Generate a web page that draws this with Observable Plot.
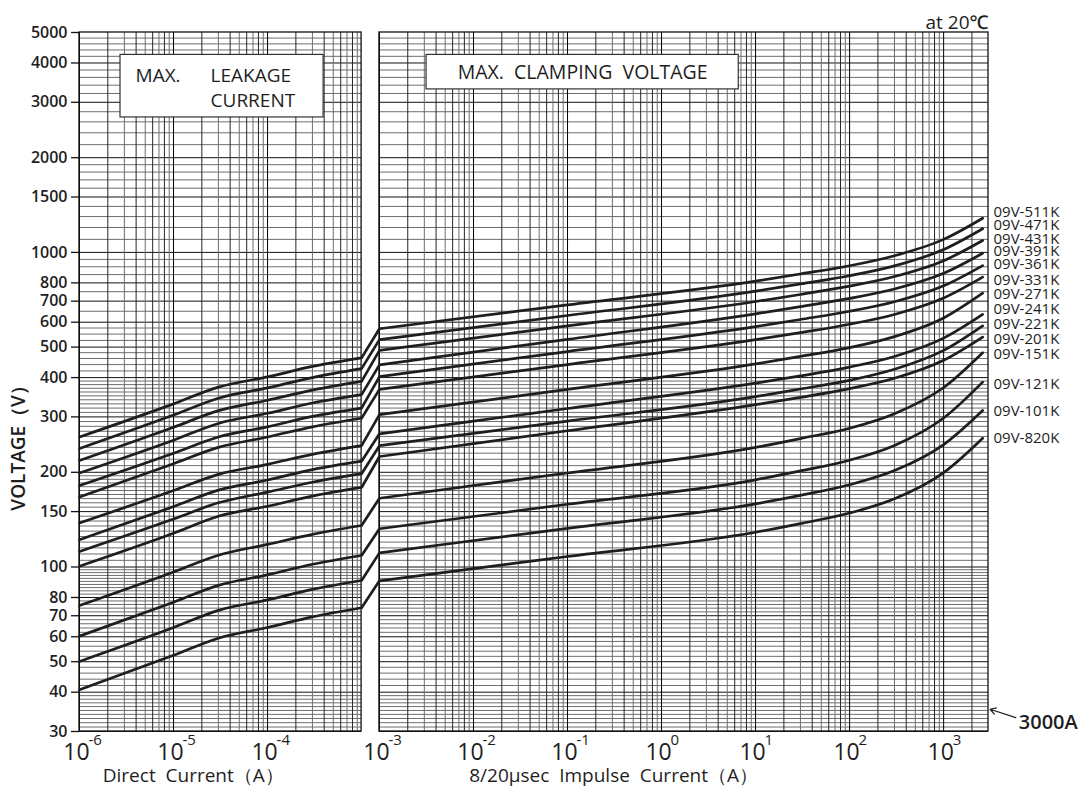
<!DOCTYPE html>
<html><head><meta charset="utf-8">
<script src="https://cdn.jsdelivr.net/npm/d3@7"></script>
<script src="https://cdn.jsdelivr.net/npm/@observablehq/plot@0.6"></script>
<style>body{margin:0;background:#fff;} svg{display:block}</style>
</head><body><div id="chart"></div>
<script>
// ---------- data ----------
const seriesNames = ["09V-511K","09V-471K","09V-431K","09V-391K","09V-361K","09V-331K","09V-271K",
  "09V-241K","09V-221K","09V-201K","09V-151K","09V-121K","09V-101K","09V-820K"];

// Max. leakage current panel (direct current, A)
const leakCurrent = [1e-6, 1e-5, 3e-5, 1e-4, 3e-4, 1e-3];
const leakVoltage = [
  [259, 330, 373, 402, 434, 462],
  [238, 304, 344, 371, 400, 427],
  [218, 278, 314, 339, 365, 389],
  [199, 253, 286, 308, 332, 353],
  [181.5, 230, 259, 279, 301, 320],
  [167, 213, 240, 259, 279, 297],
  [138, 175, 197, 212, 228, 243],
  [122, 155.6, 175.5, 189, 204, 217],
  [112, 142, 160, 173, 186, 198],
  [100.6, 128, 145, 156, 168, 179],
  [75.4, 96.4, 109, 118, 127, 135.5],
  [60.3, 77.3, 87.4, 94.4, 102, 108.8],
  [50.1, 64.2, 72.8, 78.6, 84.9, 90.6],
  [40.7, 52.4, 59.4, 64.2, 69.4, 74.2]
];

// Max. clamping voltage panel (8/20 us impulse current, A)
const clampCurrent = [1e-3, 1e-1, 10, 30, 100, 300, 1000, 2600];
const clampVoltage = [
  [572, 681, 810, 854, 907, 976, 1100, 1284],
  [528, 630, 753, 794, 843, 906, 1021, 1189],
  [488, 584, 698, 735, 781, 838, 941, 1091],
  [439, 529, 638, 672, 714, 765, 858, 994],
  [403, 484, 581, 612, 650, 697, 783, 908],
  [367, 440, 528, 556, 591, 635, 716, 834],
  [305, 367, 442, 467, 498, 540, 619, 742],
  [265, 319, 384, 405, 432, 467, 534, 635],
  [243, 291, 348, 368, 392, 425, 488, 584],
  [224.5, 271, 328, 346, 369, 398, 454, 538],
  [165.4, 199, 240, 256, 276, 307, 372, 480],
  [132.3, 158.3, 189.3, 202, 218.5, 243.5, 297.6, 387],
  [110.9, 132.7, 158.8, 169, 182.6, 202.5, 245, 314.5],
  [90.4, 108, 129, 137.4, 148.4, 164.7, 199.5, 256.7]
];

// voltage at which each series label sits
const labelVolts = [1342, 1224, 1105, 1007, 915, 818, 739, 658, 593, 531, 474, 382, 312, 257];

const yTicks = [30, 40, 50, 60, 70, 80, 100, 150, 200, 300, 400, 500, 600, 700, 800, 1000, 1500, 2000, 3000, 4000, 5000];
const dcDecades = [-6, -5, -4];
const impDecades = [-3, -2, -1, 0, 1, 2, 3];

// ---------- layout helpers ----------
const GAP = 0.19;                          // break between the two panels, in decades
const uDC = c => Math.log10(c) + 6;        // left panel: 1e-6 .. 1e-3
const uImp = c => Math.log10(c) + 6 + GAP; // right panel: 1e-3 .. 3000
const uMax = uImp(3000);
const TICK = 8 / 94;                       // y tick length in decades of x

const rows = [];
const links = [];
seriesNames.forEach((s, i) => {
  leakCurrent.forEach((c, j) => rows.push({key: s + "dc", u: uDC(c), v: leakVoltage[i][j]}));
  clampCurrent.forEach((c, j) => rows.push({key: s + "imp", u: uImp(c), v: clampVoltage[i][j]}));
  links.push({x1: uDC(1e-3), y1: leakVoltage[i][leakCurrent.length - 1], x2: uImp(1e-3), y2: clampVoltage[i][0]});
});

const dcGrid = [];
for (const e of dcDecades) for (let k = 1; k <= 9; k++) dcGrid.push({c: k * 10 ** e, k});
const impGrid = [];
for (const e of impDecades) for (let k = 1; k <= 9; k++) { const c = k * 10 ** e; if (c < 3000) impGrid.push({c, k}); }

const yGrid = [...d3.range(30, 40, 1), ...d3.range(40, 100, 2), ...d3.range(100, 200, 5),
  ...d3.range(200, 400, 10), ...d3.range(400, 500, 20), ...d3.range(500, 600, 25), ...d3.range(600, 1000, 50),
  ...d3.range(1000, 2000, 100), ...d3.range(2000, 5000, 200)];
const yMajor = new Set(yTicks);

const FONT = "'Open Sans', 'Noto Sans', sans-serif";
const ink = "#1e1e1e";
const vStroke = d => d.k === 1 ? "#000" : (d.k % 2 ? "#6e6e6e" : "#262626");
const hStroke = d => yMajor.has(d) ? "#111" : "#6e6e6e";

const plot = Plot.plot({
  width: 1088, height: 793,
  marginLeft: 79, marginRight: 1088 - 988, marginTop: 32, marginBottom: 62,
  style: {fontFamily: FONT, fontSize: "16px", color: ink, background: "#fff"},
  x: {domain: [0, uMax], axis: null},
  y: {type: "log", domain: [30, 5000], axis: null},
  marks: [
    // horizontal grid, per panel
    Plot.ruleY(yGrid, {y: d => d, x1: 0, x2: 3, stroke: hStroke, strokeWidth: 1}),
    Plot.ruleY(yGrid, {y: d => d, x1: uImp(1e-3), x2: uMax, stroke: hStroke, strokeWidth: 1}),
    // vertical grid
    Plot.ruleX(dcGrid, {x: d => uDC(d.c), y1: 30, y2: 5000, stroke: vStroke, strokeWidth: 1}),
    Plot.ruleX(impGrid, {x: d => uImp(d.c), y1: 30, y2: 5000, stroke: vStroke, strokeWidth: 1}),
    // panel frames
    Plot.rect([0], {x1: 0, x2: 3, y1: 30, y2: 5000, fill: null, stroke: "#111", strokeWidth: 1.3}),
    Plot.rect([0], {x1: uImp(1e-3), x2: uMax, y1: 30, y2: 5000, fill: null, stroke: "#111", strokeWidth: 1.3}),
    // y axis ticks and labels
    Plot.ruleY(yTicks, {y: d => d, x1: -TICK, x2: 0, stroke: "#111", strokeWidth: 1.3}),
    Plot.text(yTicks, {y: d => d, frameAnchor: "left", dx: -12, textAnchor: "end", text: d => String(d), fontSize: 16, fontWeight: 600}),
    // title boxes
    Plot.rect([0], {x1: 0.436, x2: 2.596, y1: 2685, y2: 4244, fill: "white", stroke: "#333", strokeWidth: 1.2}),
    Plot.rect([0], {x1: 3.691, x2: 7.011, y1: 3297, y2: 4244, fill: "white", stroke: "#333", strokeWidth: 1.2}),
    Plot.text(["MAX."], {x: () => 0.596, y: () => 3651, textAnchor: "start", fontSize: 19, fontWeight: 500}),
    Plot.text(["LEAKAGE"], {x: () => 1.394, y: () => 3651, textAnchor: "start", fontSize: 19, fontWeight: 500}),
    Plot.text(["CURRENT"], {x: () => 1.394, y: () => 3040, textAnchor: "start", fontSize: 19, fontWeight: 500}),
    Plot.text(["MAX.  CLAMPING  VOLTAGE"], {x: () => 5.351, y: () => 3732, fontSize: 19.5, fontWeight: 500}),
    // curves
    Plot.line(rows, {x: "u", y: "v", z: "key", stroke: ink, strokeWidth: 2.7, curve: "monotone-x"}),
    Plot.link(links, {x1: "x1", y1: "y1", x2: "x2", y2: "y2", stroke: ink, strokeWidth: 2.7}),
    // series labels
    Plot.text(seriesNames, {x: () => uMax, y: (d, i) => labelVolts[i], text: d => d, textAnchor: "start", dx: 5, fontSize: 15, fontWeight: 500}),
    // x tick labels: 10 with exponent
    Plot.text(dcDecades, {x: e => uDC(10 ** e), frameAnchor: "bottom", text: () => "10", dx: -3, dy: 28, fontSize: 23, fontWeight: 500}),
    Plot.text(dcDecades, {x: e => uDC(10 ** e), frameAnchor: "bottom", text: e => String(e), textAnchor: "start", dx: 9, dy: 13, fontSize: 15, fontWeight: 500}),
    Plot.text(impDecades, {x: e => uImp(10 ** e), frameAnchor: "bottom", text: () => "10", dx: -3, dy: 28, fontSize: 23, fontWeight: 500}),
    Plot.text(impDecades, {x: e => uImp(10 ** e), frameAnchor: "bottom", text: e => String(e), textAnchor: "start", dx: 9, dy: 13, fontSize: 15, fontWeight: 500}),
    // axis titles
    Plot.text(["Direct  Current（A）"], {x: () => 1.21, frameAnchor: "bottom", dy: 50, fontSize: 19, fontWeight: 500}),
    Plot.text(["8/20μsec  Impulse  Current（A）"], {x: () => 5.68, frameAnchor: "bottom", dy: 50, fontSize: 19, fontWeight: 500}),
    Plot.text(["VOLTAGE（V）"], {frameAnchor: "left", y: () => 151, dx: -61, rotate: -90, fontSize: 19, fontWeight: 600}),
    Plot.text(["at 20℃"], {frameAnchor: "top-right", dy: -17, textAnchor: "end", fontSize: 19, fontWeight: 500}),
    // 3000A marker
    Plot.arrow([0], {x1: 9.957, y1: 33.2, x2: 9.684, y2: 35.3, stroke: ink, strokeWidth: 1.2, headLength: 8}),
    Plot.text(["3000A"], {x: () => 9.989, y: () => 32.0, textAnchor: "start", fontSize: 20, fontWeight: 600})
  ]
});
document.getElementById("chart").appendChild(plot);
</script>
</body></html>
